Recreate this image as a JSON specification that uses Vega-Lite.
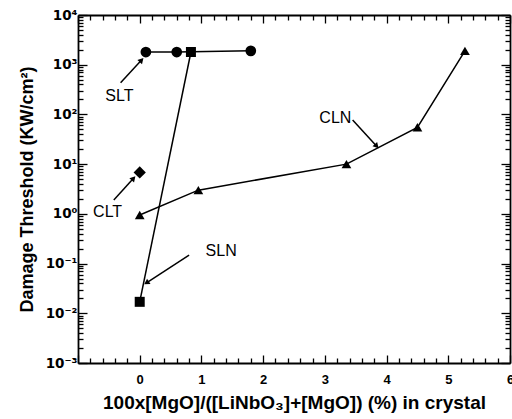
{
  "$schema": "https://vega.github.io/schema/vega-lite/v6.json",
  "width": 432,
  "height": 348,
  "autosize": "none",
  "padding": {"left": 78, "top": 15, "right": 2, "bottom": 56},
  "background": "white",
  "config": {
    "view": {"stroke": null},
    "font": "Liberation Sans",
    "axis": {
      "domainColor": "black", "domainWidth": 1.8, "tickColor": "black", "tickWidth": 1.3,
      "grid": false, "labelColor": "black", "titleColor": "black",
      "labelFont": "Liberation Sans", "labelFontWeight": "bold", "labelFontSize": 13,
      "titleFont": "Liberation Sans", "titleFontWeight": "bold", "titleFontSize": 18,
      "labelOverlap": false, "labelFlush": false, "labelBound": false
    }
  },
  "datasets": {
    "pts": [
      {"series": "SLT", "x": 0.1, "y": 1800},
      {"series": "SLT", "x": 0.6, "y": 1800},
      {"series": "SLT", "x": 1.8, "y": 1900},
      {"series": "SLN", "x": 0.0, "y": 0.017},
      {"series": "SLN", "x": 0.83, "y": 1800},
      {"series": "CLT", "x": 0.0, "y": 6.8},
      {"series": "CLN", "x": 0.0, "y": 0.95},
      {"series": "CLN", "x": 0.95, "y": 3},
      {"series": "CLN", "x": 3.35, "y": 10},
      {"series": "CLN", "x": 4.5, "y": 55},
      {"series": "CLN", "x": 5.27, "y": 1900}
    ],
    "arrows": [
      {"series": "SLT", "x1": -0.31, "y1": 436, "x2": 0.03, "y2": 1240},
      {"series": "CLT", "x1": -0.42, "y1": 1.9, "x2": -0.1, "y2": 5.2},
      {"series": "SLN", "x1": 0.8, "y1": 0.148, "x2": 0.11, "y2": 0.041},
      {"series": "CLN", "x1": 3.45, "y1": 77, "x2": 3.84, "y2": 23}
    ],
    "labels": [
      {"text": "SLT", "x": -0.33, "y": 234},
      {"text": "CLT", "x": -0.52, "y": 1.1},
      {"text": "SLN", "x": 1.32, "y": 0.18},
      {"text": "CLN", "x": 3.17, "y": 85}
    ]
  },
  "layer": [
    {
      "data": {"name": "pts"},
      "mark": {"type": "line", "color": "black", "strokeWidth": 1.5},
      "encoding": {
        "x": {
          "field": "x", "type": "quantitative",
          "scale": {"domain": [-1, 6], "nice": false, "zero": false},
          "axis": {
            "orient": "bottom",
            "title": "100x[MgO]/([LiNbO₃]+[MgO]) (%) in crystal",
            "titleFontSize": 19, "titlePadding": 4,
            "values": [-1,-0.8,-0.6,-0.4,-0.2,0,0.2,0.4,0.6,0.8,1,1.2,1.4,1.6,1.8,2,2.2,2.4,2.6,2.8,3,3.2,3.4,3.6,3.8,4,4.2,4.4,4.6,4.8,5,5.2,5.4,5.6,5.8,6],
            "labelExpr": "abs(datum.value - round(datum.value)) < 0.01 && datum.value > -0.5 ? toString(round(datum.value)) : ''",
            "tickSize": {"condition": {"test": "abs(datum.value - round(datum.value)) < 0.01", "value": -8}, "value": -5},
            "labelPadding": 18
          }
        },
        "y": {
          "field": "y", "type": "quantitative",
          "scale": {"type": "log", "domain": [0.001, 10000], "nice": false},
          "axis": {
            "orient": "left",
            "title": "Damage Threshold  (KW/cm²)",
            "values": [0.001,0.002,0.003,0.004,0.005,0.006,0.007,0.008,0.009,0.01,0.02,0.03,0.04,0.05,0.06,0.07,0.08,0.09,0.1,0.2,0.3,0.4,0.5,0.6,0.7,0.8,0.9,1,2,3,4,5,6,7,8,9,10,20,30,40,50,60,70,80,90,100,200,300,400,500,600,700,800,900,1000,2000,3000,4000,5000,6000,7000,8000,9000,10000],
            "labelExpr": "abs(log(datum.value)/LN10 - round(log(datum.value)/LN10)) < 0.01 ? '10' + ['⁻³','⁻²','⁻¹','⁰','¹','²','³','⁴'][round(log(datum.value)/LN10)+3] : ''",
            "labelFont": "DejaVu Sans", "labelFontSize": 13.5,
            "tickSize": {"condition": {"test": "abs(log(datum.value)/LN10 - round(log(datum.value)/LN10)) < 0.01", "value": -9}, "value": -5},
            "labelPadding": 10,
            "titlePadding": 9
          }
        },
        "detail": {"field": "series"}
      }
    },
    {
      "data": {"name": "pts"},
      "transform": [{"filter": "datum.series == 'SLT'"}],
      "mark": {"type": "point", "shape": "circle", "filled": true, "color": "black", "opacity": 1, "size": 115},
      "encoding": {
        "x": {
          "field": "x", "type": "quantitative",
          "axis": {
            "orient": "top", "title": null, "labels": false,
            "values": [-1,-0.8,-0.6,-0.4,-0.2,0,0.2,0.4,0.6,0.8,1,1.2,1.4,1.6,1.8,2,2.2,2.4,2.6,2.8,3,3.2,3.4,3.6,3.8,4,4.2,4.4,4.6,4.8,5,5.2,5.4,5.6,5.8,6],
            "tickSize": {"condition": {"test": "abs(datum.value - round(datum.value)) < 0.01", "value": -8}, "value": -5}
          }
        },
        "y": {
          "field": "y", "type": "quantitative",
          "axis": {
            "orient": "right", "title": null, "labels": false,
            "values": [0.001,0.002,0.003,0.004,0.005,0.006,0.007,0.008,0.009,0.01,0.02,0.03,0.04,0.05,0.06,0.07,0.08,0.09,0.1,0.2,0.3,0.4,0.5,0.6,0.7,0.8,0.9,1,2,3,4,5,6,7,8,9,10,20,30,40,50,60,70,80,90,100,200,300,400,500,600,700,800,900,1000,2000,3000,4000,5000,6000,7000,8000,9000,10000],
            "tickSize": {"condition": {"test": "abs(log(datum.value)/LN10 - round(log(datum.value)/LN10)) < 0.01", "value": -9}, "value": -5}
          }
        }
      }
    },
    {
      "data": {"name": "pts"},
      "transform": [{"filter": "datum.series == 'SLN'"}],
      "mark": {"type": "point", "shape": "square", "filled": true, "color": "black", "opacity": 1, "size": 100},
      "encoding": {
        "x": {"field": "x", "type": "quantitative", "axis": null},
        "y": {"field": "y", "type": "quantitative", "axis": null}
      }
    },
    {
      "data": {"name": "pts"},
      "transform": [{"filter": "datum.series == 'CLT'"}],
      "mark": {"type": "point", "shape": "diamond", "filled": true, "color": "black", "opacity": 1, "size": 150},
      "encoding": {
        "x": {"field": "x", "type": "quantitative", "axis": null},
        "y": {"field": "y", "type": "quantitative", "axis": null}
      }
    },
    {
      "data": {"name": "pts"},
      "transform": [{"filter": "datum.series == 'CLN'"}],
      "mark": {"type": "point", "shape": "triangle-up", "filled": true, "color": "black", "opacity": 1, "size": 95},
      "encoding": {
        "x": {"field": "x", "type": "quantitative", "axis": null},
        "y": {"field": "y", "type": "quantitative", "axis": null}
      }
    },
    {
      "data": {"name": "arrows"},
      "mark": {"type": "rule", "color": "black", "strokeWidth": 1.5},
      "encoding": {
        "x": {"field": "x1", "type": "quantitative", "axis": null},
        "y": {"field": "y1", "type": "quantitative", "axis": null},
        "x2": {"field": "x2"},
        "y2": {"field": "y2"}
      }
    },
    {
      "data": {"name": "arrows"},
      "transform": [{"filter": "datum.series == 'SLT'"}],
      "mark": {"type": "point", "shape": "triangle-up", "filled": true, "color": "black", "opacity": 1, "size": 40, "angle": 43},
      "encoding": {
        "x": {"field": "x2", "type": "quantitative", "axis": null},
        "y": {"field": "y2", "type": "quantitative", "axis": null}
      }
    },
    {
      "data": {"name": "arrows"},
      "transform": [{"filter": "datum.series == 'CLT'"}],
      "mark": {"type": "point", "shape": "triangle-up", "filled": true, "color": "black", "opacity": 1, "size": 40, "angle": 42},
      "encoding": {
        "x": {"field": "x2", "type": "quantitative", "axis": null},
        "y": {"field": "y2", "type": "quantitative", "axis": null}
      }
    },
    {
      "data": {"name": "arrows"},
      "transform": [{"filter": "datum.series == 'SLN'"}],
      "mark": {"type": "point", "shape": "triangle-up", "filled": true, "color": "black", "opacity": 1, "size": 40, "angle": 237},
      "encoding": {
        "x": {"field": "x2", "type": "quantitative", "axis": null},
        "y": {"field": "y2", "type": "quantitative", "axis": null}
      }
    },
    {
      "data": {"name": "arrows"},
      "transform": [{"filter": "datum.series == 'CLN'"}],
      "mark": {"type": "point", "shape": "triangle-up", "filled": true, "color": "black", "opacity": 1, "size": 40, "angle": 137},
      "encoding": {
        "x": {"field": "x2", "type": "quantitative", "axis": null},
        "y": {"field": "y2", "type": "quantitative", "axis": null}
      }
    },
    {
      "data": {"name": "labels"},
      "mark": {"type": "text", "color": "black", "fontSize": 16, "font": "Liberation Sans", "align": "center", "baseline": "middle"},
      "encoding": {
        "x": {"field": "x", "type": "quantitative", "axis": null},
        "y": {"field": "y", "type": "quantitative", "axis": null},
        "text": {"field": "text"}
      }
    }
  ],
  "resolve": {"axis": {"x": "independent", "y": "independent"}}
}
